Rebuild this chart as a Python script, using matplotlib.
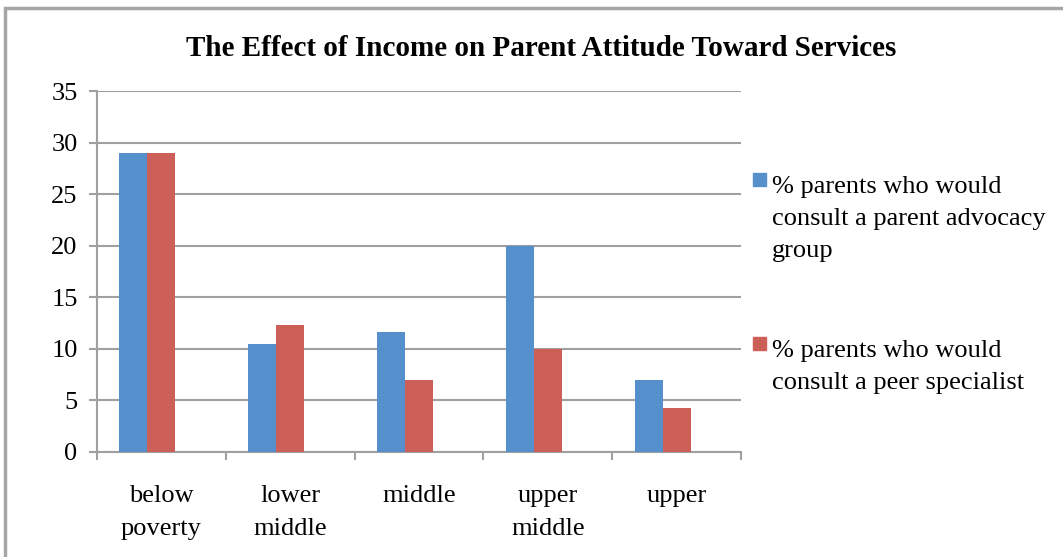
import matplotlib.pyplot as plt
import matplotlib.patches as mpatches
import numpy as np

categories = ["below\npoverty", "lower\nmiddle", "middle", "upper\nmiddle", "upper"]
advocacy = [29, 10.5, 11.6, 20, 7]
peer = [29, 12.3, 7, 10, 4.3]
labels = ["% parents who would\nconsult a parent advocacy\ngroup",
          "% parents who would\nconsult a peer specialist"]

blue = "#5590CC"
red = "#CC5F58"
grid_c = "#A0A0A0"
font = "Liberation Serif"

fig = plt.figure(figsize=(10.63, 5.57), dpi=100)
ax = fig.add_axes([97/1063, 105/557, 644/1063, 361/557])

idx = np.arange(len(categories))
w = 0.217
# excel had a third (empty) series, so the two bars sit left of centre
ax.bar(idx - w, advocacy, w, color=blue, zorder=3)
ax.bar(idx, peer, w, color=red, zorder=3)

ax.set_xlim(-0.5, len(categories) - 0.5)
ax.set_ylim(0, 35)
ax.set_yticks(range(0, 36, 5))
ax.yaxis.grid(True, color=grid_c, linewidth=1.5, zorder=0)
ax.set_xticks(idx)
ax.set_xticklabels(categories, fontfamily=font, fontsize=19, linespacing=1.6)
ax.set_xticks(np.arange(-0.5, len(categories)), minor=True)
ax.tick_params(axis="x", which="major", length=0, pad=24)
ax.tick_params(axis="x", which="minor", length=6, width=1.5, color=grid_c, direction="out")
ax.tick_params(axis="y", length=6, width=1.5, color=grid_c, pad=8)
for t in ax.get_yticklabels():
    t.set_fontfamily(font)
    t.set_fontsize(19)
for s in ["top", "right"]:
    ax.spines[s].set_visible(False)
for s in ["left", "bottom"]:
    ax.spines[s].set_color(grid_c)
    ax.spines[s].set_linewidth(1.5)

fig.text(541/1063, 1 - 48/557, "The Effect of Income on Parent Attitude Toward Services",
         ha="center", va="center", fontfamily=font, fontweight="bold", fontsize=21)

# legend: square next to the first line of each wrapped label
leg_y = [173, 337]
for lab, col, y in zip(labels, [blue, red], leg_y):
    fig.patches.append(mpatches.Rectangle((753/1063, 1 - (y + 13)/557), 13/1063, 13/557,
                                          transform=fig.transFigure, color=col))
    fig.text(772/1063, 1 - (y + 3)/557, lab, ha="left", va="top",
             fontfamily=font, fontsize=19, linespacing=1.6)

fig.patches.append(mpatches.Rectangle((5/1063, -0.1), 1.2, 1.1 - 8/557,
                                      transform=fig.transFigure, fill=False,
                                      edgecolor="#A6A6A6", linewidth=2.5))

fig.savefig("out.png", dpi=100)
